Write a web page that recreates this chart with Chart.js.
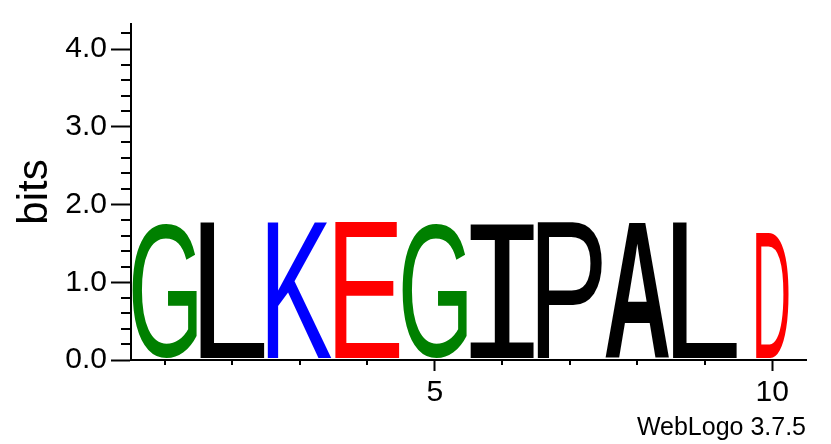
<!DOCTYPE html>
<html>
<head>
<meta charset="utf-8">
<title>WebLogo</title>
<script src="https://cdn.jsdelivr.net/npm/chart.js@4.4.1/dist/chart.umd.min.js"></script>
<style>
  html, body { margin: 0; padding: 0; background: #fff; }
</style>
</head>
<body>
<canvas id="logoChart" width="831" height="444"></canvas>
<script>
// sequence logo data, one stack per position
const positions = [1, 2, 3, 4, 5, 6, 7, 8, 9, 10];
const residues = ['G', 'L', 'K', 'E', 'G', 'I', 'P', 'A', 'L', 'D'];
const bits = [1.77, 1.77, 1.77, 1.77, 1.77, 1.77, 1.77, 1.77, 1.77, 1.64];
const xLabelTicks = [5, 10];
const yLabelTicks = [0, 1, 2, 3, 4];
const yMax = 4.3219; // log2(20)
const yMinorStep = 0.2;

const residueColors = {
    G: '#008000', K: '#0000ff', E: '#ff0000', D: '#ff0000',
    L: '#000000', I: '#000000', P: '#000000', A: '#000000'
};
// glyph font per residue (default Liberation Sans)
const residueFonts = { I: '"Liberation Mono"', A: 'bold "Liberation Sans"' };
// D glyph only fills about half of its stack in the original
const residueInset = { D: 0.26 };

const isWhole = v => Math.abs(v - Math.round(v)) < 1e-6;

function drawLetter(ctx, ch, font, color, left, top, right, bottom) {
    ctx.save();
    const parts = font.split(' ');
    const weight = parts[0] === 'bold' ? 'bold ' : '';
    const family = weight ? parts.slice(1).join(' ') : font;
    ctx.font = weight + '200px ' + family;
    const m = ctx.measureText(ch);
    const w = m.actualBoundingBoxLeft + m.actualBoundingBoxRight;
    const h = m.actualBoundingBoxAscent + m.actualBoundingBoxDescent;
    ctx.translate(left, top);
    ctx.scale((right - left) / w, (bottom - top) / h);
    ctx.fillStyle = color;
    ctx.textBaseline = 'alphabetic';
    ctx.textAlign = 'left';
    ctx.fillText(ch, m.actualBoundingBoxLeft, m.actualBoundingBoxAscent);
    ctx.restore();
}

const logoLetters = {
    id: 'logoLetters',
    afterDatasetsDraw(chart) {
        const ctx = chart.ctx;
        const meta = chart.getDatasetMeta(0);
        meta.data.forEach((bar, i) => {
            const p = bar.getProps(['x', 'y', 'base', 'width'], true);
            const ch = residues[i];
            const pad = p.width * (residueInset[ch] || 0.025);
            drawLetter(ctx, ch, residueFonts[ch] || '"Liberation Sans"', residueColors[ch],
                p.x - p.width / 2 + pad, p.y, p.x + p.width / 2 - pad, p.base - 2);
        });
    }
};

// short ticks that chart.js can't draw itself, plus the credit line
const minorTicks = {
    id: 'minorTicks',
    afterDraw(chart) {
        const ctx = chart.ctx;
        const xs = chart.scales.x, ys = chart.scales.y;
        const area = chart.chartArea;
        ctx.save();
        ctx.strokeStyle = '#000';
        ctx.lineWidth = 2;
        ctx.beginPath();
        for (let v = yMinorStep; v < yMax; v += yMinorStep) {
            if (isWhole(v)) continue;
            const py = Math.round(ys.getPixelForValue(v));
            ctx.moveTo(area.left - 10, py);
            ctx.lineTo(area.left, py);
        }
        positions.forEach(p => {
            if (xLabelTicks.includes(p)) return;
            const px = Math.round(xs.getPixelForValue(p));
            ctx.moveTo(px, area.bottom);
            ctx.lineTo(px, area.bottom + 5);
        });
        ctx.stroke();
        ctx.fillStyle = '#000';
        ctx.font = '25px "Liberation Sans"';
        ctx.textAlign = 'right';
        ctx.textBaseline = 'alphabetic';
        ctx.fillText('WebLogo 3.7.5', area.right, 435);
        ctx.restore();
    }
};

new Chart(document.getElementById('logoChart'), {
    type: 'bar',
    data: {
        datasets: [{
            data: positions.map((p, i) => ({ x: p, y: bits[i] })),
            backgroundColor: 'rgba(0,0,0,0)',
            borderWidth: 0,
            barPercentage: 1,
            categoryPercentage: 1
        }]
    },
    options: {
        responsive: false,
        animation: false,
        layout: { padding: { top: 24, right: 25, left: 0, bottom: 0 } },
        plugins: { legend: { display: false }, tooltip: { enabled: false } },
        scales: {
            x: {
                type: 'linear',
                min: 0.5,
                max: 10.5,
                offset: false,
                afterBuildTicks: scale => { scale.ticks = xLabelTicks.map(v => ({ value: v })); },
                afterFit: scale => { scale.height = 84; },
                border: { color: '#000', width: 2 },
                grid: {
                    offset: false,
                    drawOnChartArea: false,
                    tickLength: 11,
                    tickWidth: 2,
                    tickColor: '#000'
                },
                ticks: {
                    autoSkip: false,
                    maxRotation: 0,
                    padding: 4,
                    color: '#000',
                    font: { family: 'Liberation Sans', size: 30 },
                    callback: v => String(v)
                }
            },
            y: {
                min: 0,
                max: yMax,
                afterBuildTicks: scale => { scale.ticks = yLabelTicks.map(v => ({ value: v })); },
                afterFit: scale => { scale.width = 131; },
                border: { color: '#000', width: 2 },
                grid: {
                    drawOnChartArea: false,
                    tickLength: 20,
                    tickWidth: 2,
                    tickColor: '#000'
                },
                ticks: {
                    autoSkip: false,
                    padding: 4,
                    color: '#000',
                    font: { family: 'Liberation Sans', size: 30 },
                    callback: v => Number(v).toFixed(1)
                },
                title: {
                    display: true,
                    text: 'bits',
                    color: '#000',
                    font: { family: 'Liberation Sans', size: 42 },
                    padding: { top: 10, bottom: 0 }
                }
            }
        }
    },
    plugins: [logoLetters, minorTicks]
});
</script>
</body>
</html>
